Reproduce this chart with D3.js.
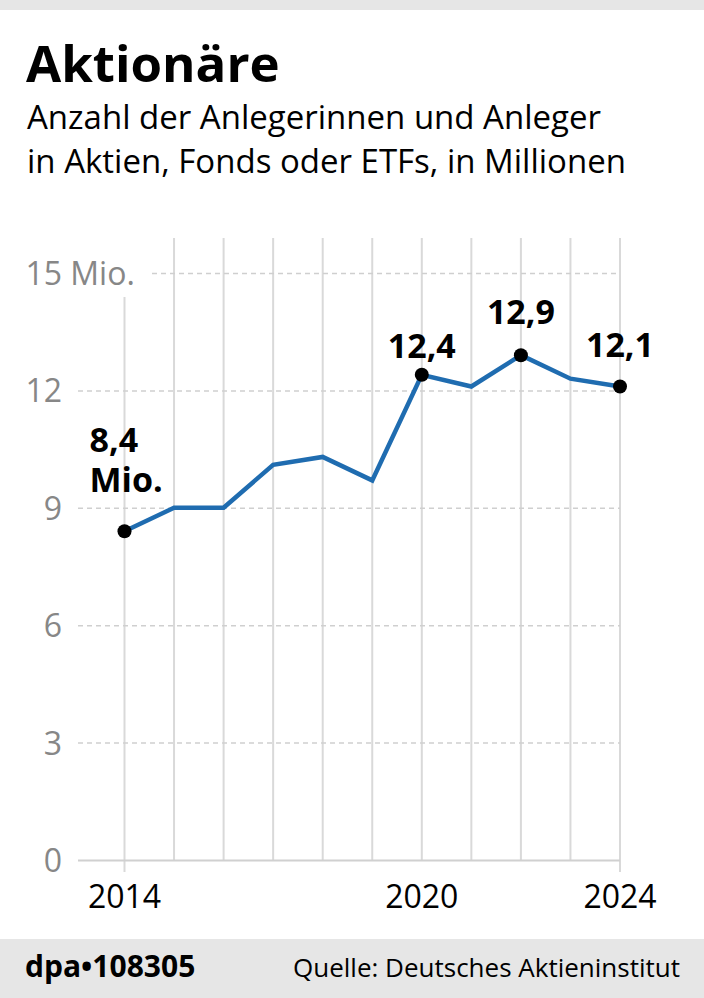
<!DOCTYPE html>
<html><head><meta charset="utf-8">
<script src="https://cdn.jsdelivr.net/npm/d3@7"></script>
<style>
html,body{margin:0;padding:0;background:#fff;}
svg{display:block;font-family:"Open Sans",sans-serif;}
</style></head>
<body>
<svg id="chart" width="704" height="998"></svg>
<script>
// ---- data ----
const years = [2014,2015,2016,2017,2018,2019,2020,2021,2022,2023,2024];
const values = [8.4,9.0,9.0,10.1,10.3,9.7,12.4,12.1,12.9,12.3,12.1];
const yTicks = [0,3,6,9,12,15];
const xLabelYears = [2014,2020,2024];
const highlightYears = [2014,2020,2022,2024];
const labelTexts = {2014:["8,4","Mio."],2020:["12,4"],2022:["12,9"],2024:["12,1"]};
const title = "Aktionäre";
const subtitle = ["Anzahl der Anlegerinnen und Anleger","in Aktien, Fonds oder ETFs, in Millionen"];
const source = "Quelle: Deutsches Aktieninstitut";
const credit = "dpa\u2022108305";

const svg = d3.select("#chart");
const W = 704, H = 998;

// background bars
svg.append("rect").attr("x",0).attr("y",0).attr("width",W).attr("height",10).attr("fill","#e6e6e6");
svg.append("rect").attr("x",0).attr("y",939).attr("width",W).attr("height",H-939).attr("fill","#e6e6e6");

// titles
svg.append("text").attr("x",26).attr("y",82).attr("font-size",51).attr("font-weight",700)
  .attr("fill","#000").text(title);
subtitle.forEach((s,i)=>{
  svg.append("text").attr("x",27).attr("y",129+i*44).attr("font-size",33).attr("fill","#000").text(s);
});

// scales
const x = d3.scaleLinear().domain([2014,2024]).range([124.5,620]);
const y = d3.scaleLinear().domain([0,15]).range([860,273]);
const left = 78;

// vertical grid lines
svg.append("g").selectAll("line").data(years).join("line")
  .attr("x1",d=>x(d)).attr("x2",d=>x(d))
  .attr("y1",d=>d===2014?297:238)
  .attr("y2",d=>xLabelYears.includes(d)&&d!==2020?872:y(0))
  .attr("stroke","#d9d9d9").attr("stroke-width",2);

// y axis with horizontal grid
const yAxis = svg.append("g").attr("transform",`translate(${left},0)`)
  .call(d3.axisLeft(y).tickValues(yTicks).tickSize(-(x(2024)-left)).tickPadding(16).tickFormat(d3.format("d")));
yAxis.select(".domain").remove();
yAxis.selectAll(".tick line")
  .attr("stroke",d=>d===0?"#d0d0d0":"#cfcfcf")
  .attr("stroke-width",d=>d===0?2:1.5)
  .attr("stroke-dasharray",d=>d===0?null:"5,4")
  .attr("x1",d=>d===15?152-left:0);
yAxis.selectAll(".tick text")
  .attr("font-family","Open Sans, sans-serif").attr("font-size",32).attr("fill","#878787")
  .attr("dy","0.36em");
// top label "15 Mio."
yAxis.selectAll(".tick").filter(d=>d===15).select("text").each(function(){
  const t = d3.select(this);
  const w = this.getComputedTextLength();
  t.attr("text-anchor","start").attr("x",-16-w).text("15 Mio.");
});

// x labels
svg.append("g").selectAll("text").data(xLabelYears).join("text")
  .attr("x",d=>x(d)).attr("y",908).attr("text-anchor","middle")
  .attr("font-size",32).attr("fill","#000").text(d=>d);

// line
const data = years.map((yr,i)=>({year:yr,value:values[i]}));
svg.append("path").datum(data)
  .attr("d",d3.line().x(d=>x(d.year)).y(d=>y(d.value)))
  .attr("fill","none").attr("stroke","#1f6cb0").attr("stroke-width",4.5)
  .attr("stroke-linejoin","miter");

// dots
const hl = data.filter(d=>highlightYears.includes(d.year));
svg.append("g").selectAll("circle").data(hl).join("circle")
  .attr("cx",d=>x(d.year)).attr("cy",d=>y(d.value)).attr("r",7).attr("fill","#000");

// value labels
const lab = svg.append("g").attr("font-size",34).attr("font-weight",700).attr("fill","#000");
// 2014: left of point, two lines
{
  const d = data[0];
  const t = lab.append("text").attr("x",x(d.year)-35).attr("y",y(d.value)-79);
  labelTexts[2014].forEach((s,i)=>t.append("tspan").attr("x",x(d.year)-35).attr("dy",i?40:0).text(s));
}
const offs = {2020:-17,2022:-31,2024:-29};
[2020,2022,2024].forEach(yr=>{
  const d = data.find(e=>e.year===yr);
  lab.append("text").attr("x",x(yr)).attr("y",y(d.value)+offs[yr]).attr("text-anchor","middle").text(labelTexts[yr][0]);
});

// footer
svg.append("text").attr("x",25).attr("y",977).attr("font-size",30).attr("font-weight",700).attr("fill","#000").text(credit);
svg.append("text").attr("x",680).attr("y",977).attr("text-anchor","end").attr("font-size",26).attr("fill","#000").text(source);
</script>
</body></html>
